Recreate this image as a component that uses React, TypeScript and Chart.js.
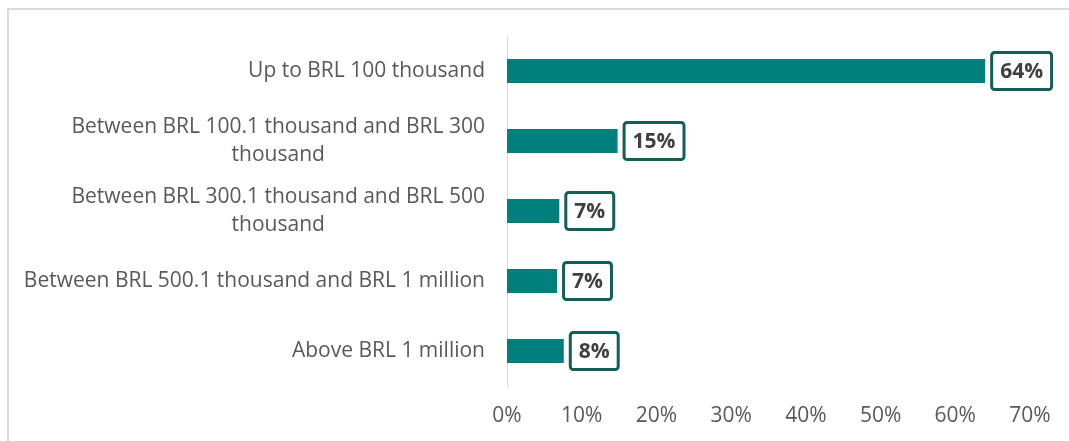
import React, { useEffect, useRef } from "react";
import { Chart, registerables } from "chart.js";

Chart.register(...registerables);

const categories: string[][] = [
  ["Up to BRL 100 thousand"],
  ["Between BRL 100.1 thousand and BRL 300", "thousand"],
  ["Between BRL 300.1 thousand and BRL 500", "thousand"],
  ["Between BRL 500.1 thousand and BRL 1 million"],
  ["Above BRL 1 million"],
];
const shares: number[] = [64, 14.8, 7.0, 6.7, 7.6];
const shareLabels: string[] = ["64%", "15%", "7%", "7%", "8%"];
const xTicks: number[] = [0, 10, 20, 30, 40, 50, 60, 70];

const FONT = "'Open Sans', 'Liberation Sans', sans-serif";
const AXIS_COLOR = "#595959";
const BAR_COLOR = "#007f7c";
const BOX_COLOR = "#135e57";

const yLabelPlugin = {
  id: "yLabelPlugin",
  afterDraw(chart: any) {
    const ctx = chart.ctx;
    const y = chart.scales.y;
    ctx.save();
    ctx.font = `21px ${FONT}`;
    ctx.fillStyle = AXIS_COLOR;
    ctx.textAlign = "center";
    ctx.textBaseline = "middle";
    const right = 476;
    const lh = 28;
    categories.forEach((lines, i) => {
      const yc = y.getPixelForValue(i);
      const w = Math.max(...lines.map((l) => ctx.measureText(l).width));
      lines.forEach((l, j) => {
        ctx.fillText(l, right - w / 2, yc + (j - (lines.length - 1) / 2) * lh);
      });
    });
    ctx.restore();
  },
};

const boxLabelPlugin = {
  id: "boxLabelPlugin",
  afterDatasetsDraw(chart: any) {
    const ctx = chart.ctx;
    const meta = chart.getDatasetMeta(0);
    ctx.save();
    ctx.font = `bold 21px ${FONT}`;
    meta.data.forEach((bar: any, i: number) => {
      const text = shareLabels[i];
      const tw = ctx.measureText(text).width;
      const left = bar.x + 5;
      const h = 40;
      const w = tw + 20;
      const top = bar.y - h / 2;
      ctx.fillStyle = "#ffffff";
      ctx.strokeStyle = BOX_COLOR;
      ctx.lineWidth = 3;
      ctx.beginPath();
      (ctx as any).roundRect(left + 1.5, top + 1.5, w - 3, h - 3, 3);
      ctx.fill();
      ctx.stroke();
      ctx.fillStyle = "#404040";
      ctx.textAlign = "center";
      ctx.textBaseline = "middle";
      ctx.fillText(text, left + w / 2, bar.y + 1);
    });
    ctx.restore();
  },
};

export default function App() {
  const ref = useRef<HTMLCanvasElement>(null);
  useEffect(() => {
    if (!ref.current) return;
    const chart = new Chart(ref.current, {
      type: "bar",
      data: {
        labels: categories.map((c) => c.join(" ")),
        datasets: [
          {
            data: shares,
            backgroundColor: BAR_COLOR,
            borderWidth: 0,
            barPercentage: 0.34,
            categoryPercentage: 1,
          },
        ],
      },
      options: {
        indexAxis: "y",
        animation: false,
        responsive: true,
        maintainAspectRatio: false,
        layout: { padding: { top: 26, right: 39, left: 0, bottom: 0 } },
        plugins: {
          legend: { display: false },
          tooltip: { enabled: false },
        },
        scales: {
          x: {
            min: 0,
            max: 70,
            afterBuildTicks(scale: any) {
              scale.ticks = xTicks.map((v) => ({ value: v }));
            },
            afterFit(scale: any) {
              scale.height = 55;
            },
            grid: { display: false, drawTicks: false },
            border: { display: false },
            ticks: {
              color: AXIS_COLOR,
              font: { family: FONT, size: 21 },
              padding: 17,
              maxRotation: 0,
              callback: (v: any) => `${v}%`,
            },
          },
          y: {
            afterFit(scale: any) {
              scale.width = 498;
            },
            grid: { display: false, drawTicks: false },
            border: { display: true, color: "#d9d9d9", width: 1 },
            ticks: { display: false },
          },
        },
      },
      plugins: [yLabelPlugin, boxLabelPlugin],
    });
    return () => chart.destroy();
  }, []);
  return (
    <div
      style={{
        position: "fixed",
        left: 7,
        top: 8,
        right: 0,
        bottom: 0,
        borderTop: "2px solid #d9d9d9",
        borderLeft: "2px solid #d9d9d9",
      }}
    >
      <div style={{ position: "relative", width: "100%", height: "100%" }}>
        <canvas ref={ref} />
      </div>
    </div>
  );
}
